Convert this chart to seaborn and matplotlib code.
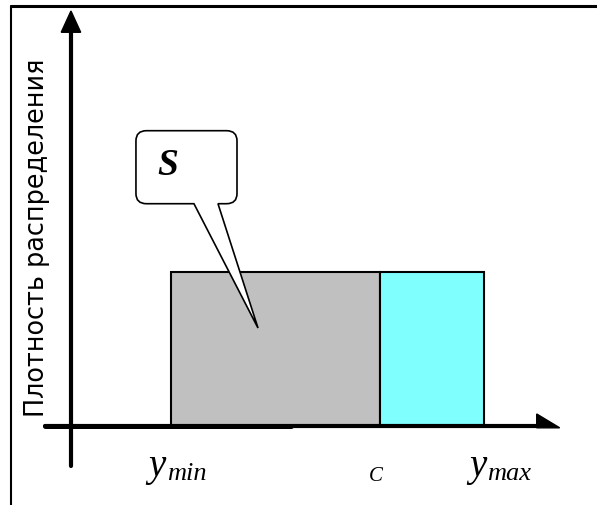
import matplotlib
matplotlib.use("Agg")
import matplotlib.pyplot as plt
from matplotlib.path import Path
from matplotlib.patches import PathPatch, Polygon
from matplotlib.lines import Line2D
import seaborn as sns

# Uniform distribution on [y_min, y_max], split at C
y_min = 1.0
c_val = 3.0
y_max = 4.0
density = 1.0 / (y_max - y_min)

segment_left = [y_min, c_val]
segment_width = [c_val - y_min, y_max - c_val]
segment_colors = ["#C0C0C0", "#80FFFF"]

axis_label = "Плотность распределения"
area_label = "S"

sns.set_style("white")
plt.rcParams["font.family"] = ["DejaVu Sans"]

fig = plt.figure(figsize=(5.97, 5.06), dpi=100)
ax = fig.add_axes([0, 0, 1, 1])
ax.set_xlim(-0.636, 5.077)
ax.set_ylim(-0.171, 0.924)
ax.axis("off")

# density rectangles
ax.bar(segment_left, [density, density], width=segment_width, align="edge",
       color=segment_colors, edgecolor="black", linewidth=1.5, zorder=2)

# coordinate axes with arrow heads
ax.plot([-0.206, 4.5], [0, 0], color="black", lw=3.0, solid_capstyle="round", zorder=3)
ax.plot([-0.206, 2.15], [-0.001, -0.001], color="black", lw=3.6,
        solid_capstyle="round", zorder=3)
ax.add_patch(Polygon([[4.5, 0.026], [4.72, -0.004], [4.5, -0.004]], closed=True,
                     color="black", zorder=3))
ax.plot([0.043, 0.043], [-0.087, 0.85], color="black", lw=3.0, zorder=3)
ax.add_patch(Polygon([[-0.05, 0.852], [0.043, 0.898], [0.136, 0.852]], closed=True,
                     color="black", zorder=3))

# callout bubble pointing into the grey area
L, R, T, B = 0.665, 1.632, 0.639, 0.481
rx, ry = 0.1, 0.022
b1, b2 = 1.22, 1.45
tip = (1.833, 0.212)
verts = [
    (L + rx, T), (R - rx, T), (R, T), (R, T - ry), (R, B + ry), (R, B), (R - rx, B),
    (b2, B), tip, (b1, B), (L + rx, B), (L, B), (L, B + ry), (L, T - ry), (L, T),
    (L + rx, T), (L + rx, T),
]
codes = [
    Path.MOVETO, Path.LINETO, Path.CURVE3, Path.CURVE3, Path.LINETO, Path.CURVE3,
    Path.CURVE3, Path.LINETO, Path.LINETO, Path.LINETO, Path.LINETO, Path.CURVE3,
    Path.CURVE3, Path.LINETO, Path.CURVE3, Path.CURVE3, Path.CLOSEPOLY,
]
ax.add_patch(PathPatch(Path(verts, codes), facecolor="white", edgecolor="black",
                       lw=1.2, zorder=4))
ax.text(0.87, 0.545, area_label, fontsize=27, fontweight="bold", fontstyle="italic",
        family="Liberation Serif", color="black", ha="left", va="baseline", zorder=5)

# axis tick labels
serif = dict(family="Liberation Serif", fontstyle="italic", va="baseline", color="black")
ax.text(0.78, -0.107, "y", fontsize=28, ha="left", **serif)
ax.text(0.965, -0.1147, "min", fontsize=19, ha="left", **serif)
ax.text(2.96, -0.117, "C", fontsize=15, ha="center", **serif)
ax.text(3.85, -0.107, "y", fontsize=28, ha="left", **serif)
ax.text(4.025, -0.1147, "max", fontsize=19, ha="left", **serif)

ax.text(-0.282, 0.41, axis_label, rotation=90, fontsize=18.4,
        color="black", ha="center", va="center")

# frame
fig.add_artist(Line2D([0.018, 1.0], [0.987, 0.987], color="black", lw=2.2,
                      transform=fig.transFigure))
fig.add_artist(Line2D([0.018, 0.018], [0.0, 0.987], color="black", lw=1.5,
                      transform=fig.transFigure))

fig.savefig("out.png", dpi=100)
